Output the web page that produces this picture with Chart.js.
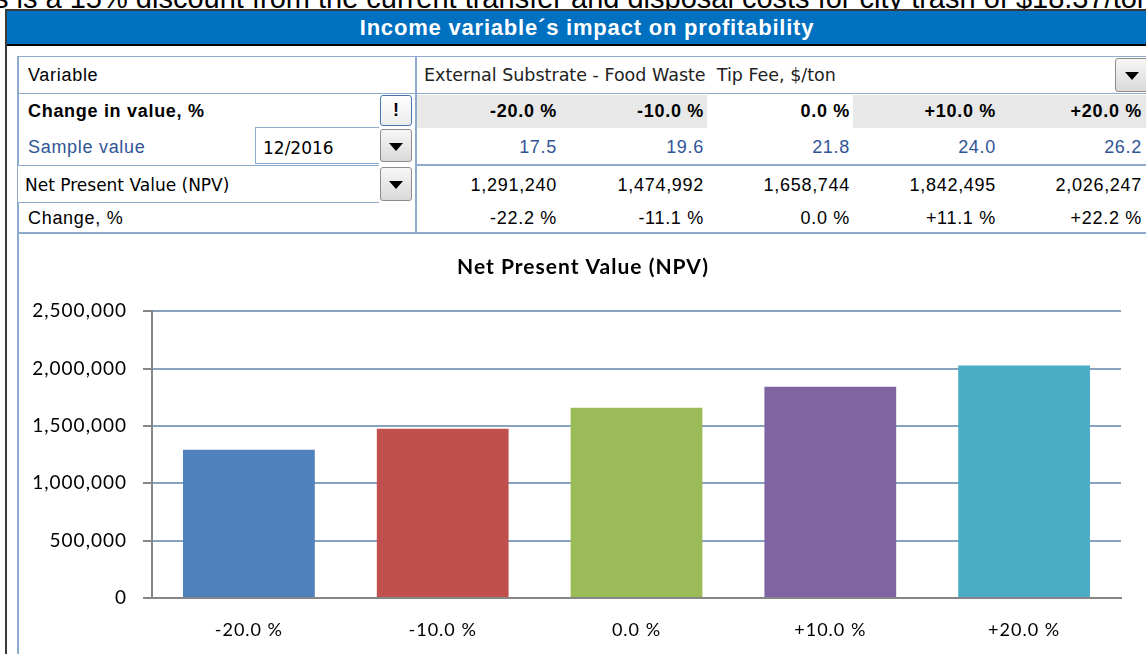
<!DOCTYPE html>
<html>
<head>
<meta charset="utf-8">
<script src="https://cdn.jsdelivr.net/npm/chart.js@4"></script>
<style>
  body { margin: 0; width: 1146px; height: 654px; overflow: hidden; background: #fff; position: relative; font-family: "Liberation Sans", Arial, sans-serif; }
  .abs { position: absolute; }
  .arl { letter-spacing: 0.7px; }
  .tah { font-family: "DejaVu Sans", sans-serif; }
  .btn { position: absolute; box-sizing: border-box; border: 1px solid #8c8c8c; border-radius: 3px; background: linear-gradient(#f7f7f7, #d9d9d9); }
  .btn .tri { position: absolute; left: 50%; top: 50%; margin-left: -7px; margin-top: -3px; width: 0; height: 0; border-left: 7px solid transparent; border-right: 7px solid transparent; border-top: 8px solid #000; }
  .cell { position: absolute; font-size: 18px; text-align: right; width: 140px; line-height: 22px; letter-spacing: 0.7px; }
  .line { position: absolute; background: #8eaacc; }
</style>
</head>
<body>
<!-- cut-off sentence above the block -->
<div class="abs" style="left:0;top:0;width:1146px;height:9px;overflow:hidden;">
  <div class="abs" style="left:-6px;top:-16px;white-space:nowrap;font-size:29px;line-height:29px;color:#000;">s is a 15% discount from the current transfer and disposal costs for city trash of $18.37/ton</div>
</div>

<div class="abs" style="left:5px;top:9px;width:2px;height:645px;background:#3a3a3a;"></div>
<div class="abs" style="left:7px;top:9px;width:1160px;height:2px;background:#3a3a3a;"></div>
<div class="abs" style="left:7px;top:11px;width:1160px;height:33px;background:#0070c0;color:#fff;font-weight:bold;font-size:22px;letter-spacing:0.8px;line-height:33px;text-align:center;">Income variable´s impact on profitability</div>
<div class="abs" style="left:7px;top:44px;width:1160px;height:2px;background:#000;"></div>

<!-- table frame -->
<div class="line" style="left:17px;top:56px;width:1129px;height:1px;"></div>
<div class="line" style="left:17px;top:56px;width:2px;height:598px;"></div>
<div class="line" style="left:415px;top:56px;width:2px;height:178px;"></div>
<div class="line" style="left:17px;top:93px;width:1129px;height:1px;"></div>
<div class="line" style="left:415px;top:164px;width:731px;height:2px;"></div>
<div class="line" style="left:17px;top:232px;width:1129px;height:2px;"></div>

<div class="abs" style="left:417px;top:95px;width:290px;height:33px;background:#e8e8e8;"></div>
<div class="abs" style="left:853px;top:95px;width:293px;height:33px;background:#e8e8e8;"></div>

<div class="abs arl" style="left:28px;top:64px;font-size:18px;line-height:22px;">Variable</div>
<div class="abs tah" style="left:424px;top:64px;font-size:17.5px;line-height:22px;color:#222;white-space:nowrap;">External Substrate - Food Waste&nbsp; Tip Fee, $/ton</div>
<div class="btn" style="left:1115px;top:58px;width:34px;height:34px;"><div class="tri"></div></div>

<div class="abs arl" style="left:28px;top:100px;font-size:18px;line-height:22px;font-weight:bold;">Change in value, %</div>
<div class="btn" style="left:380px;top:95px;width:32px;height:31px;border-color:#4a78ad;background:linear-gradient(#fff,#ececec);font-weight:bold;font-size:18px;line-height:28px;text-align:center;">!</div>

<div class="abs arl" style="left:28px;top:136px;font-size:18px;line-height:22px;color:#2f5597;">Sample value</div>
<div class="abs" style="left:255px;top:127px;width:124px;height:37px;box-sizing:border-box;border:1px solid #8eaacc;border-right:none;background:#fff;"></div>
<div class="abs tah" style="left:263px;top:137px;font-size:17px;line-height:22px;">12/2016</div>
<div class="btn" style="left:380px;top:129px;width:32px;height:33px;"><div class="tri"></div></div>

<div class="abs" style="left:17px;top:165px;width:362px;height:38px;box-sizing:border-box;border:1px solid #8eaacc;border-right:none;background:#fff;"></div>
<div class="abs tah" style="left:25px;top:174px;font-size:17px;line-height:22px;white-space:nowrap;">Net Present Value (NPV)</div>
<div class="btn" style="left:380px;top:167px;width:32px;height:34px;"><div class="tri"></div></div>

<div class="abs arl" style="left:28px;top:207px;font-size:18px;line-height:22px;">Change, %</div>

<div id="vals"></div>

<canvas id="npvChart" width="1128" height="418" style="position:absolute;left:19px;top:236px;"></canvas>

<script>
const categories = ['-20.0 %', '-10.0 %', '0.0 %', '+10.0 %', '+20.0 %'];
const sampleValues = ['17.5', '19.6', '21.8', '24.0', '26.2'];
const npvValues = [1291240, 1474992, 1658744, 1842495, 2026247];
const npvChange = ['-22.2 %', '-11.1 %', '0.0 %', '+11.1 %', '+22.2 %'];
const barColors = ['#4f81bd', '#c0504d', '#9bbb59', '#8064a2', '#4bacc6'];

// table values, right aligned in each column
const colRight = [557, 704, 850, 996, 1142];
const rows = [
  { top: 100, items: categories, style: 'font-weight:bold;' },
  { top: 136, items: sampleValues, style: 'color:#2f5597;' },
  { top: 174, items: npvValues.map(v => v.toLocaleString('en-US')), style: '' },
  { top: 207, items: npvChange, style: '' }
];
let html = '';
rows.forEach(r => {
  r.items.forEach((t, i) => {
    html += '<div class="cell" style="left:' + (colRight[i] - 140) + 'px;top:' + r.top + 'px;' + r.style + '">' + t + '</div>';
  });
});
document.getElementById('vals').innerHTML = html;

// excel draws the chart text a bit looser
const spacing = {
  id: 'spacing',
  beforeUpdate(c) { c.ctx.letterSpacing = '1px'; },
  beforeDraw(c) { c.ctx.letterSpacing = '1px'; }
};

const ctx = document.getElementById('npvChart');
new Chart(ctx, {
  type: 'bar',
  data: {
    labels: categories,
    datasets: [{
      label: 'Net Present Value (NPV)',
      data: npvValues,
      backgroundColor: barColors,
      categoryPercentage: 1,
      barPercentage: 0.68
    }]
  },
  plugins: [spacing],
  options: {
    responsive: false,
    animation: false,
    layout: { padding: 0 },
    plugins: {
      legend: { display: false },
      tooltip: { enabled: false },
      title: {
        display: true,
        text: 'Net Present Value (NPV)',
        color: '#000',
        font: { family: 'Lato', size: 21, weight: 'bold' },
        padding: { top: 19, bottom: 31 }
      }
    },
    scales: {
      x: {
        grid: { display: false, drawTicks: false },
        border: { display: true, color: '#868686', width: 2 },
        ticks: { color: '#000', font: { family: 'Lato', size: 18 }, padding: 21 },
        afterFit: s => { s.height = 56; }
      },
      y: {
        min: 0,
        max: 2500000,
        ticks: {
          stepSize: 500000,
          color: '#000',
          font: { family: 'Lato', size: 19 },
          padding: 16,
          callback: v => v.toLocaleString('en-US')
        },
        grid: { color: '#86a2be', lineWidth: 2, tickColor: '#868686', tickLength: 9, tickWidth: 2 },
        border: { color: '#868686', width: 2 },
        afterFit: s => { s.width = 133; }
      },
      // empty strip on the right so the plot ends where the sheet's does
      rightGap: {
        position: 'right',
        grid: { display: false, drawTicks: false },
        border: { display: false },
        ticks: { display: false },
        afterFit: s => { s.width = 26; }
      }
    }
  }
});
</script>
</body>
</html>
